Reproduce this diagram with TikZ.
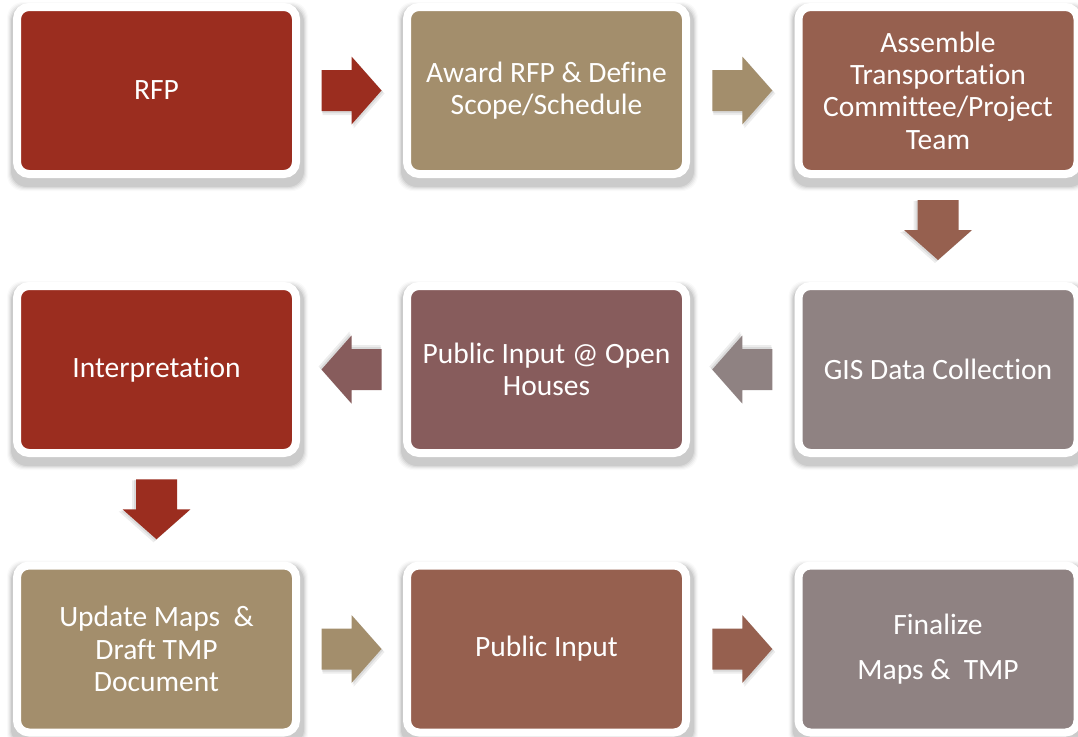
\documentclass[tikz,border=0pt]{standalone}
\usepackage{fontspec}
\setmainfont{Carlito}[Ligatures=NoCommon]
\usetikzlibrary{calc,backgrounds}
\definecolor{cred}{HTML}{9B2D1F}
\definecolor{ctan}{HTML}{A38E6C}
\definecolor{cbrown}{HTML}{96604F}
\definecolor{cgrey}{HTML}{8F8282}
\definecolor{cmauve}{HTML}{875C5C}
\tikzset{
  box/.style={rectangle, rounded corners=12pt, draw=white, line width=8pt,
    minimum width=279pt, minimum height=167pt, inner sep=0pt,
    text=white, align=center, font=\fontsize{29.5}{32.3}\selectfont},
  barrow/.pic={
    \fill[black, opacity=0.07] (-29,-18.5) -- (2,-18.5) -- (2,-32) -- (33,3) -- (2,38) -- (2,24.5) -- (-29,24.5) -- cycle;
    \fill[black, opacity=0.08] (-29.5,-19.5) -- (1,-19.5) -- (1,-33) -- (31.5,1.5) -- (1,36) -- (1,22.5) -- (-29.5,22.5) -- cycle;
    \path[pic actions] (-30,-20.5) -- (0,-20.5) -- (0,-34) -- (30,0) -- (0,34) -- (0,20.5) -- (-30,20.5) -- cycle;
  }
}
\newcommand{\boxshadow}[1]{%
  \foreach \s/\o in {0/0.07,1/0.05,2/0.04,3/0.03,4/0.02}{%
    \fill[black, opacity=\o, rounded corners=16pt]
      ($(#1.north west)+(-2-\s,3-\s)$) rectangle ($(#1.south east)+(4+\s,9+\s)$);
  }%
}
\begin{document}
\begin{tikzpicture}[x=1pt,y=-1pt]
\useasboundingbox (0,0) rectangle (1078,736);
% row 1
\node[box, fill=cred] (rfp) at (156.5,90.5) {RFP};
\node[box, fill=ctan] (award) at (546.5,90.5) {Award RFP \& Define\\Scope/Schedule};
\node[box, fill=cbrown] (assemble) at (938,90.5) {Assemble\\Transportation\\Committee/Project\\Team};
% row 2
\node[box, fill=cred] (interp) at (156.5,369.5) {Interpretation};
\node[box, fill=cmauve] (open) at (546.5,369.5) {Public Input @ Open\\Houses};
\node[box, fill=cgrey] (gis) at (938,369.5) {GIS Data Collection};
% row 3
\node[box, fill=ctan] (update) at (156.5,649) {Update Maps~~\&\\Draft TMP\\Document};
\node[box, fill=cbrown] (pubin) at (546.5,649) {Public Input};
\node[box, fill=cgrey] (final) at (938,649) {Finalize\\[12.7pt]Maps \&~~TMP};
% shadows
\begin{scope}[on background layer]
\fill[white] (0,0) rectangle (1078,736);
\foreach \n in {rfp,award,assemble,interp,open,gis,update,pubin,final}{\boxshadow{\n}}
\end{scope}
% block arrows between boxes
\pic[fill=cred] (a1) at ($(rfp.east)!0.5!(award.west)$) {barrow};
\pic[fill=ctan] (a2) at ($(award.east)!0.5!(assemble.west)$) {barrow};
\pic[fill=cbrown, rotate=-90] (a3) at ($(assemble.south)!0.5!(gis.north)$) {barrow};
\pic[fill=cgrey, rotate=180] (a4) at ($(gis.west)!0.5!(open.east)$) {barrow};
\pic[fill=cmauve, rotate=180] (a5) at ($(open.west)!0.5!(interp.east)$) {barrow};
\pic[fill=cred, rotate=-90] (a6) at ($(interp.south)!0.5!(update.north)$) {barrow};
\pic[fill=ctan] (a7) at ($(update.east)!0.5!(pubin.west)$) {barrow};
\pic[fill=cbrown] (a8) at ($(pubin.east)!0.5!(final.west)$) {barrow};
\end{tikzpicture}
\end{document}
